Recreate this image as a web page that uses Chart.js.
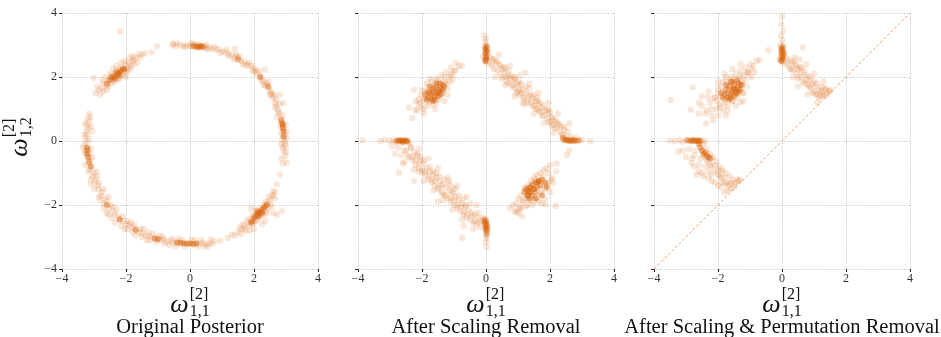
<!DOCTYPE html>
<html><head><meta charset="utf-8">
<script src="https://cdn.jsdelivr.net/npm/chart.js@4/dist/chart.umd.min.js"></script>
<style>
html,body{margin:0;padding:0;background:#fff;}
#wrap{position:relative;width:941px;height:337px;overflow:hidden;}
canvas{position:absolute;left:0;top:0;}
</style></head>
<body><div id="wrap">
<canvas id="c1" width="941" height="337"></canvas>
<canvas id="c2" width="941" height="337"></canvas>
<canvas id="c3" width="941" height="337"></canvas>
</div>
<script>
// ---------- data ----------
const tickValues = [-4, -2, 0, 2, 4];
const tickLabels = ['\u22124', '\u22122', '0', '2', '4'];
const panelTitles = ['Original Posterior', 'After Scaling Removal', 'After Scaling & Permutation Removal'];
const axisSymbol = '\u03c9';
const axisSup = '[2]';
const xSub = '1,1';
const ySub = '1,2';
const diagX = [-4, 4];
const diagY = [-4, 4];

// Panel 1: original posterior (light points)
const origLight = [
 [-0.55,3.0],[-0.45,2.97],[-0.3,3.0],[-0.2,2.96],[-0.1,2.99],[0.0,2.97],[0.1,2.95],[0.15,3.0],[0.2,2.93],[0.3,2.97],
 [0.35,2.92],[0.45,2.96],[0.5,2.91],[0.6,2.93],[0.7,2.88],[0.8,2.85],[0.9,2.87],[1.0,2.8],[1.1,2.78],[1.2,2.72],
 [1.3,2.7],[1.4,2.62],[1.5,2.6],[1.6,2.5],[1.7,2.47],[1.8,2.38],[1.9,2.35],[1.95,2.22],[2.05,2.2],[2.1,2.1],
 [2.2,2.05],[2.25,1.9],[2.3,1.85],[2.35,1.72],[2.45,1.65],[2.5,1.55],[2.55,1.42],[2.6,1.35],[2.65,1.2],[2.7,1.1],
 [2.75,0.98],[2.8,0.85],[2.85,0.7],[2.85,0.58],[2.9,0.45],[2.92,0.35],[2.95,0.2],[2.93,0.1],[2.97,0.0],[2.95,-0.1],
 [2.9,-0.2],[2.93,-0.3],[0.1,3.03],[0.5,3.0],[1.2,2.65],[1.45,2.7],[1.75,2.35],[2.0,2.3],[2.2,1.95],[2.4,1.8],
 [2.55,1.5],[2.7,1.3],[2.75,0.9],[2.92,0.55],[3.02,0.3],[2.88,0.05],[3.0,-0.15],[2.85,-0.55],[2.9,-0.7],[2.8,-1.05],
 [2.92,1.19],[2.81,1.45],[2.34,2.23],[1.4,2.88],[-0.52,3.05],
 [-0.4,3.05],[-0.15,2.93],[0.05,3.05],[0.25,3.02],[0.55,2.86],[0.75,2.95],[0.95,2.75],[1.15,2.85],[1.35,2.55],[1.55,2.65],
 [1.65,2.4],[1.85,2.45],[2.0,2.15],[2.15,2.2],[2.3,1.75],[2.45,1.85],[2.5,1.45],[2.65,1.45],[2.65,1.05],[2.8,1.15],
 [2.72,0.75],[2.9,0.8],[2.82,0.45],[3.0,0.5],[2.85,0.25],[3.02,0.1],[2.85,-0.1],[3.0,-0.35],
 [-2.95,1.5],[-2.85,1.6],[-2.75,1.65],[-2.7,1.8],[-2.6,1.75],[-2.55,1.9],[-2.5,1.95],[-2.45,2.05],[-2.4,1.9],[-2.35,2.1],
 [-2.3,2.2],[-2.25,1.95],[-2.2,2.25],[-2.15,2.1],[-2.1,2.3],[-2.05,2.2],[-2.0,2.4],[-1.95,2.3],[-1.9,2.45],[-1.85,2.35],
 [-1.8,2.5],[-1.75,2.55],[-1.7,2.6],[-1.6,2.72],[-1.5,2.7],[-1.4,2.74],[-1.9,2.6],[-2.15,2.45],[-2.4,2.25],[-2.65,2.0],
 [-3.01,1.97],[-2.19,3.42],[-1.19,2.77],[-1.03,2.96],
 [-2.8,1.45],[-2.7,1.55],[-2.6,1.6],[-2.55,1.7],[-2.45,1.8],[-2.35,1.85],[-2.3,1.95],[-2.2,1.95],[-2.1,2.05],[-2.0,2.15],
 [-1.95,2.2],[-1.85,2.25],[-1.75,2.4],[-1.65,2.45],[-1.55,2.6],[-2.5,2.1],[-2.3,2.35],[-2.05,2.5],[-1.8,2.65],[-2.75,1.9],
 [-2.9,1.7],[-2.0,2.0],
 [-3.15,0.85],[-3.2,0.7],[-3.15,0.6],[-3.22,0.5],[-3.18,0.4],[-3.25,0.3],[-3.2,0.2],[-3.28,0.1],[-3.22,0.0],[-3.3,-0.1],
 [-3.2,-0.2],[-3.25,-0.3],[-3.15,-0.4],[-3.22,-0.5],[-3.12,-0.6],[-3.18,-0.7],[-3.08,-0.8],[-3.12,-0.9],[-3.0,-1.0],[-3.05,-1.1],
 [-2.95,-1.2],[-2.98,-1.3],[-2.88,-1.4],[-2.85,-1.5],[-2.75,-1.6],[-2.78,-1.7],[-2.65,-1.8],[-2.6,-1.9],[-2.5,-2.0],[-2.52,-2.1],
 [-2.4,-2.2],[-2.35,-2.3],[-2.25,-2.35],[-2.2,-2.45],[-2.1,-2.5],[-2.0,-2.6],[-1.9,-2.62],[-1.8,-2.7],[-1.7,-2.75],[-1.6,-2.85],
 [-1.5,-2.88],[-1.4,-2.95],[-1.3,-2.97],[-1.2,-3.0],[-1.1,-3.05],[-1.0,-3.05],[-0.9,-3.1],[-0.8,-3.08],[-0.7,-3.15],[-0.6,-3.12],
 [-0.5,-3.18],[-0.4,-3.15],[-0.3,-3.2],[-0.2,-3.18],[-0.1,-3.22],[0.0,-3.2],[0.1,-3.24],[0.2,-3.2],[0.3,-3.22],[0.4,-3.18],
 [0.5,-3.22],[0.6,-3.2],[0.7,-3.22],[-3.05,0.3],[-3.35,-0.2],[-3.05,-0.5],[-2.9,-1.1],[-3.1,-1.35],[-2.8,-1.85],[-2.45,-2.4],
 [-2.6,-2.25],[-2.05,-2.75],[-1.85,-2.55],[-1.55,-2.75],[-1.25,-3.1],[-0.95,-2.95],[-0.65,-3.25],[-0.35,-3.05],[0.15,-3.1],[0.45,-3.3],
 [0.65,-3.08],[-2.7,-2.1],[-1.7,-2.95],[0.94,-3.12],[1.19,-3.03],
 [-3.1,0.75],[-3.28,0.55],[-3.1,0.45],[-3.3,0.2],[-3.15,0.05],[-3.3,-0.35],[-3.1,-0.25],[-3.28,-0.75],[-3.18,-0.95],[-2.92,-0.95],
 [-3.1,-1.2],[-2.85,-1.3],[-3.0,-1.5],[-2.7,-1.5],[-2.85,-1.75],[-2.55,-1.75],[-2.7,-1.95],[-2.4,-2.05],[-2.55,-2.3],[-2.3,-2.15],
 [-2.35,-2.55],[-2.1,-2.35],[-2.15,-2.65],[-1.95,-2.5],[-1.95,-2.75],[-1.75,-2.6],[-1.8,-2.85],[-1.45,-2.75],[-1.5,-3.0],[-1.3,-2.85],
 [-1.35,-3.1],[-1.15,-2.9],[-1.05,-3.15],[-0.85,-3.0],[-0.8,-3.2],[-0.55,-3.05],[-0.45,-3.28],[-0.25,-3.1],[-0.15,-3.3],[0.05,-3.1],
 [0.25,-3.3],[0.35,-3.1],[0.55,-3.3],[0.75,-3.12],
 [1.5,-2.85],[1.6,-2.75],[1.7,-2.65],[1.75,-2.8],[1.8,-2.55],[1.87,-2.8],[1.9,-2.45],[1.95,-2.6],[2.0,-2.35],[2.05,-2.5],
 [2.1,-2.2],[2.15,-2.4],[2.2,-2.1],[2.25,-2.3],[2.3,-2.0],[2.35,-2.2],[2.4,-1.95],[2.45,-2.1],[2.5,-1.85],[2.55,-1.7],
 [2.6,-1.56],[2.65,-1.8],[2.72,-2.3],[2.87,-2.19],[2.71,-1.35],[2.97,-0.47],[3.02,-0.68],[1.9,-2.1],[2.35,-2.5],[1.65,-2.6],
 [2.0,-2.75],[1.4,-2.95],[1.3,-2.92],
 [1.55,-2.7],[1.7,-2.75],[1.8,-2.45],[1.85,-2.65],[1.95,-2.3],[2.0,-2.55],[2.05,-2.15],[2.1,-2.45],[2.2,-2.3],[2.3,-2.3],
 [2.35,-1.9],[2.4,-2.25],[2.5,-1.95],[2.55,-2.05],[2.45,-1.75],[2.6,-1.7],[2.65,-1.6],[1.6,-2.9],[2.25,-2.6],[2.6,-2.25]
];
// Panel 1: dense cores
const origDense = [
 [0.1,2.96],[0.2,2.95],[0.3,2.96],[0.4,2.94],[0.25,2.92],[0.35,2.97],[1.5,2.55],[2.2,2.0],[2.45,1.7],[2.85,0.65],
 [2.9,0.5],[2.9,0.4],[2.93,0.3],[2.92,0.15],[2.88,0.55],
 [-2.5,1.9],[-2.4,2.0],[-2.35,1.95],[-2.3,2.05],[-2.25,2.1],[-2.2,2.15],[-2.15,2.2],[-2.1,2.25],[-2.05,2.25],[-2.3,2.15],
 [-2.45,2.0],[-2.2,2.05],[-2.6,1.8],
 [-3.22,-0.2],[-3.2,-0.3],[-3.22,-0.4],[-3.18,-0.5],[-3.15,-0.65],[-3.1,-0.8],[-2.6,-2.0],[-2.2,-2.45],[-1.7,-2.78],[-1.1,-3.05],
 [-1.0,-3.07],[-0.4,-3.18],[-0.2,-3.2],[-0.1,-3.2],[0.0,-3.2],[0.1,-3.22],[-0.3,-3.18],[0.2,-3.2],
 [2.0,-2.4],[2.05,-2.35],[2.1,-2.3],[2.15,-2.25],[2.2,-2.2],[2.25,-2.15],[2.3,-2.1],[2.35,-2.05],[2.15,-2.35],[2.25,-2.25],
 [2.1,-2.2],[1.95,-2.5],[1.9,-2.55],[2.4,-2.0]
];

// Panel 2: after scaling removal
const scaledLight = [
 [-0.05,3.3],[0.0,3.2],[-0.03,3.1],[0.02,3.0],[-0.05,2.95],[0.05,2.9],[-0.02,2.8],[0.03,2.7],[-0.05,2.6],[0.04,2.5],
 [0.0,2.45],[0.08,2.75],[-0.08,2.65],
 [0.15,2.6],[0.2,2.35],[0.3,2.45],[0.35,2.2],[0.4,2.4],[0.45,2.1],[0.5,2.25],[0.55,2.0],[0.6,2.15],[0.65,1.85],[0.7,2.05],
 [0.75,1.95],[0.8,1.75],[0.85,1.9],[0.9,1.65],[0.95,1.8],[1.0,1.55],[1.05,1.75],[1.1,1.5],[1.15,1.6],[1.2,1.35],
 [1.25,1.5],[1.3,1.3],[1.35,1.45],[1.4,1.2],[1.45,1.35],[1.5,1.1],[1.55,1.25],[1.6,1.0],[1.65,1.15],[1.7,0.9],
 [1.75,1.05],[1.8,0.8],[1.85,0.95],[1.9,0.7],[1.95,0.85],[2.0,0.6],[2.05,0.75],[2.1,0.5],[2.15,0.65],[2.2,0.4],
 [2.25,0.55],[2.3,0.3],[2.35,0.45],[2.4,0.2],[2.45,0.35],[2.5,0.15],[0.25,2.55],[0.55,2.3],[0.9,1.95],[1.23,2.13],
 [1.6,1.35],[1.95,1.0],
 [0.1,2.4],[0.2,2.55],[0.25,2.25],[0.35,2.5],[0.45,2.35],[0.5,1.95],[0.6,2.3],[0.7,1.8],[0.7,2.2],[0.8,2.05],
 [0.85,1.7],[0.9,2.0],[0.95,1.5],[1.0,1.85],[1.05,1.45],[1.1,1.8],[1.15,1.35],[1.25,1.7],[1.3,1.2],[1.35,1.65],
 [1.4,1.4],[1.5,1.45],[1.55,1.0],[1.6,1.25],[1.7,1.2],[1.75,0.8],[1.8,1.1],[1.9,0.95],[1.95,0.6],[2.0,0.9],
 [2.1,0.7],[2.15,0.4],[2.2,0.6],[2.3,0.5],[2.35,0.2],[2.45,0.45],[2.55,0.3],[1.45,1.1],[1.05,1.6],[0.65,2.0],
 [2.05,0.5],[1.65,0.95],
 [0.3,2.0],[0.6,1.75],[0.9,1.4],[1.2,1.15],[1.5,0.85],[1.8,0.55],[2.1,0.25],[0.4,2.7],[0.75,2.35],[1.05,2.05],
 [1.35,1.8],[1.65,1.5],[1.95,1.2],[2.25,0.85],[2.6,0.55],[1.15,1.2],
 [2.4,0.05],[2.55,0.0],[2.7,0.05],[2.85,0.0],[3.0,0.03],[3.26,0.0],[2.53,-0.44],[2.6,-0.3],[2.65,0.15],[2.8,0.1],
 [-2.3,0.72],[-2.15,0.98],[-2.1,1.15],[-2.2,1.25],[-2.0,1.05],[-1.95,1.3],[-2.05,1.45],[-1.9,1.55],[-1.85,1.2],[-1.8,1.7],
 [-1.75,1.4],[-1.7,1.85],[-1.65,1.15],[-1.6,1.6],[-1.55,1.95],[-1.5,1.3],[-1.45,1.75],[-1.4,2.05],[-1.35,1.5],[-1.3,1.85],
 [-1.25,2.15],[-1.2,1.65],[-1.15,2.0],[-1.1,2.3],[-1.05,1.9],[-1.0,2.2],[-0.95,2.45],[-0.85,2.35],[-0.75,2.35],[-2.25,1.6],
 [-1.95,0.85],[-1.6,1.0],[-2.4,1.05],[-1.3,1.25],
 [-2.2,0.95],[-2.05,1.2],[-1.95,1.0],[-1.9,1.35],[-1.85,1.5],[-1.8,1.1],[-1.75,1.25],[-1.7,1.65],[-1.65,1.35],[-1.6,1.8],
 [-1.55,1.2],[-1.5,1.9],[-1.45,1.4],[-1.4,1.8],[-1.35,1.6],[-1.3,2.0],[-1.25,1.8],[-1.2,1.45],[-1.15,1.85],[-1.1,2.1],
 [-1.05,2.05],[-0.95,2.2],[-2.0,1.6],[-1.85,1.8],[-1.75,1.95],[-2.1,1.3],
 [0.75,-2.1],[0.85,-2.0],[0.95,-1.95],[1.0,-1.8],[1.05,-2.15],[1.1,-1.7],[1.12,-2.35],[1.15,-1.9],[1.2,-1.55],[1.25,-2.05],
 [1.3,-1.4],[1.35,-1.85],[1.4,-1.25],[1.45,-2.0],[1.5,-1.15],[1.55,-1.75],[1.6,-1.05],[1.65,-1.9],[1.7,-1.0],[1.75,-1.6],
 [1.8,-0.9],[1.85,-1.4],[1.9,-0.85],[1.95,-1.3],[2.0,-0.75],[2.05,-1.15],[2.2,-0.7],[1.86,-1.98],[2.17,-2.03],[1.0,-2.25],
 [0.9,-2.2],
 [2.2,-0.95],[2.05,-1.2],[1.95,-1.0],[1.9,-1.35],[1.85,-1.5],[1.8,-1.1],[1.75,-1.25],[1.7,-1.65],[1.65,-1.35],[1.6,-1.8],
 [1.55,-1.2],[1.5,-1.9],[1.45,-1.4],[1.4,-1.8],[1.35,-1.6],[1.3,-2.0],[1.25,-1.8],[1.2,-1.45],[1.15,-1.85],[1.1,-2.1],
 [1.05,-2.05],[0.95,-2.2],[2.0,-1.6],[1.85,-1.8],[1.75,-1.95],[2.1,-1.3],
 [-3.86,0.02],[-3.3,0.0],[-3.15,0.03],[-3.0,0.0],[-2.9,0.03],[-2.8,-0.05],[-2.7,0.0],[-2.6,0.02],[-2.5,0.0],[-2.4,-0.05],
 [-2.5,-0.3],[-2.45,-0.05],[-2.4,-0.5],[-2.35,-0.2],[-2.3,-0.6],[-2.25,-0.35],[-2.2,-0.75],[-2.15,-0.45],[-2.1,-0.85],[-2.05,-0.6],
 [-2.0,-1.0],[-1.95,-0.7],[-1.9,-1.05],[-1.85,-0.85],[-1.8,-1.2],[-1.75,-0.95],[-1.7,-1.3],[-1.65,-1.05],[-1.6,-1.4],[-1.55,-1.15],
 [-1.5,-1.5],[-1.45,-1.25],[-1.4,-1.6],[-1.35,-1.35],[-1.3,-1.7],[-1.25,-1.45],[-1.2,-1.8],[-1.15,-1.55],[-1.1,-1.9],[-1.05,-1.65],
 [-1.0,-2.0],[-0.95,-1.75],[-0.9,-2.1],[-0.85,-1.85],[-0.8,-2.2],[-0.75,-1.95],[-0.7,-2.3],[-0.65,-2.05],[-0.6,-2.4],[-0.55,-2.15],
 [-0.5,-2.45],[-0.45,-2.25],[-0.4,-2.55],[-0.35,-2.3],[-0.3,-2.6],[-0.25,-2.4],[-0.2,-2.7],[-0.15,-2.5],[-0.7,-2.65],[-2.75,-0.2],
 [-2.85,-0.4],[-2.55,-0.65],[-1.5,-1.9],[-2.1,-0.95],[-2.72,-0.99],[-2.25,-1.25],[-0.74,-3.02],
 [-0.1,-2.4],[-0.2,-2.55],[-0.25,-2.25],[-0.35,-2.5],[-0.45,-2.35],[-0.5,-1.95],[-0.6,-2.3],[-0.7,-1.8],[-0.7,-2.2],[-0.8,-2.05],
 [-0.85,-1.7],[-0.9,-2.0],[-0.95,-1.5],[-1.0,-1.85],[-1.05,-1.45],[-1.1,-1.8],[-1.15,-1.35],[-1.25,-1.7],[-1.3,-1.2],[-1.35,-1.65],
 [-1.4,-1.4],[-1.5,-1.45],[-1.55,-1.0],[-1.6,-1.25],[-1.7,-1.2],[-1.75,-0.8],[-1.8,-1.1],[-1.9,-0.95],[-1.95,-0.6],[-2.0,-0.9],
 [-2.1,-0.7],[-2.15,-0.4],[-2.2,-0.6],[-2.3,-0.5],[-2.35,-0.2],[-2.45,-0.45],[-2.55,-0.3],[-1.45,-1.1],[-1.05,-1.6],[-0.65,-2.0],
 [-2.05,-0.5],[-1.65,-0.95],[-2.65,-0.45],[-2.95,-0.15],
 [-0.3,-2.0],[-0.6,-1.75],[-0.9,-1.4],[-1.2,-1.15],[-1.5,-0.85],[-1.8,-0.55],[-2.1,-0.25],[-0.4,-2.75],[-0.75,-2.45],[-1.05,-2.15],
 [-1.35,-1.85],[-1.65,-1.55],[-1.95,-1.25],[-2.25,-0.9],[-2.6,-0.7],[-1.15,-1.25],
 [0.0,-2.45],[-0.05,-2.55],[0.03,-2.65],[-0.02,-2.75],[0.05,-2.85],[0.0,-2.95],[0.03,-3.05],[0.0,-3.15],[0.03,-3.3],[-0.05,-2.6],
 [0.08,-2.7]
];
const scaledDense = [
 [0.0,2.55],[0.0,2.65],[-0.02,2.75],[0.0,2.85],[0.02,2.95],[-0.03,2.5],[0.02,2.6],[-0.02,2.9],[0.03,2.8],
 [2.45,0.02],[2.55,0.03],[2.6,0.0],[2.65,0.02],[2.7,0.0],[2.75,0.02],[2.8,0.01],[2.5,0.05],[2.9,0.02],[2.4,0.1],
 [-1.8,1.35],[-1.75,1.5],[-1.7,1.45],[-1.65,1.55],[-1.6,1.4],[-1.55,1.5],[-1.5,1.6],[-1.45,1.55],[-1.4,1.65],[-1.55,1.7],
 [-1.7,1.3],[-1.35,1.75],[-1.5,1.4],[-1.65,1.65],[-1.45,1.8],[-1.8,1.55],
 [-1.9,1.45],[-1.85,1.3],[-1.6,1.3],[-1.4,1.45],[-1.3,1.7],[-1.55,1.8],[-1.65,1.25],[-1.35,1.6],[-1.75,1.7],[-1.5,1.5],
 [1.2,-1.6],[1.25,-1.5],[1.3,-1.7],[1.35,-1.45],[1.4,-1.6],[1.45,-1.35],[1.5,-1.5],[1.55,-1.3],[1.6,-1.45],[1.65,-1.25],
 [1.7,-1.4],[1.45,-1.7],[1.35,-1.8],[1.55,-1.6],[1.75,-1.2],[1.3,-1.55],
 [1.9,-1.45],[1.85,-1.3],[1.6,-1.3],[1.4,-1.45],[1.3,-1.7],[1.55,-1.8],[1.65,-1.25],[1.35,-1.6],[1.75,-1.7],[1.5,-1.5],
 [-2.75,0.02],[-2.7,0.0],[-2.65,0.02],[-2.6,0.0],[-2.55,0.02],[-2.5,0.01],[-2.45,0.0],[-2.8,0.0],[-2.6,-0.05],
 [0.0,-2.5],[0.02,-2.6],[-0.02,-2.7],[0.0,-2.8],[0.02,-2.9],[-0.03,-2.55],[0.03,-2.75],[0.0,-2.65],[-0.05,-2.45]
];

// Panel 3: after scaling & permutation removal
const permLight = [
 [0.0,3.88],[-0.02,3.65],[0.03,3.45],[-0.03,3.3],[0.02,3.15],[-0.05,3.0],[0.05,2.9],[-0.02,2.8],[0.03,2.7],[-0.05,2.6],
 [0.04,2.5],[0.0,2.45],[0.08,2.75],[-0.08,2.55],
 [0.15,2.55],[0.2,2.35],[0.3,2.45],[0.35,2.2],[0.4,2.4],[0.45,2.1],[0.5,2.25],[0.55,2.0],[0.6,2.15],[0.65,1.85],
 [0.7,2.05],[0.75,1.9],[0.8,1.75],[0.85,1.9],[0.9,1.65],[0.95,1.8],[1.0,1.55],[1.05,1.7],[1.1,1.45],[1.15,1.6],
 [1.2,1.4],[1.25,1.55],[1.3,1.45],[1.35,1.6],[1.45,1.55],[1.5,1.6],[0.65,2.92],[-0.43,2.84],[0.3,2.25],[0.55,2.3],
 [0.1,2.4],[0.2,2.55],[0.25,2.25],[0.35,2.5],[0.45,2.35],[0.5,1.95],[0.6,2.3],[0.7,1.8],[0.7,2.2],[0.8,2.05],
 [0.85,1.7],[0.9,2.0],[0.95,1.5],[1.0,1.85],[1.05,1.45],[1.1,1.8],[1.15,1.35],[1.25,1.7],[1.3,1.4],[1.35,1.65],
 [1.4,1.45],[1.5,1.55],[1.2,1.55],[0.55,2.55],[0.4,2.6],
 [0.5,1.7],[0.8,1.45],[1.1,1.2],[0.35,2.0],[0.75,2.4],[1.0,2.1],[1.3,1.85],
 [-3.48,1.28],[-2.79,1.68],[-2.85,0.98],[-2.37,0.55],
 [-2.35,0.95],[-2.25,1.2],[-2.2,0.8],[-2.1,1.35],[-2.05,1.0],[-2.0,1.5],[-1.95,1.15],[-1.9,1.7],[-1.85,0.95],[-1.8,1.3],
 [-1.75,1.85],[-1.7,1.1],[-1.65,1.6],[-1.6,2.0],[-1.55,1.25],[-1.5,1.8],[-1.45,2.1],[-1.4,1.35],[-1.35,1.95],[-1.3,2.2],
 [-1.25,1.5],[-1.2,2.05],[-1.15,2.3],[-1.1,1.7],[-1.05,2.15],[-1.0,2.4],[-0.9,2.35],[-0.8,2.5],[-0.7,2.53],[-2.5,1.1],
 [-2.6,0.85],[-1.75,0.8],[-1.3,1.2],[-0.95,2.0],
 [-2.2,1.0],[-2.05,1.25],[-1.95,1.05],[-1.9,1.4],[-1.85,1.55],[-1.8,1.15],[-1.75,1.3],[-1.7,1.7],[-1.65,1.4],[-1.6,1.85],
 [-1.55,1.25],[-1.5,1.95],[-1.45,1.45],[-1.4,1.85],[-1.35,1.65],[-1.3,2.05],[-1.25,1.85],[-1.2,1.5],[-1.15,1.9],[-1.1,2.15],
 [-1.05,2.1],[-0.95,2.25],[-2.0,1.65],[-1.85,1.85],[-1.75,2.0],[-2.1,1.35],[-2.3,1.35],[-2.4,0.85],[-2.15,0.65],[-0.85,2.15],
 [-2.3,1.55],[-2.0,1.85],[-1.8,2.1],[-1.55,2.25],[-1.3,2.4],[-1.2,1.25],[-1.45,1.1],[-1.7,0.95],[-2.0,0.8],[-2.5,1.4],
 [-2.6,1.2],
 [-3.5,0.02],[-3.35,0.0],[-3.2,0.03],[-3.1,-0.02],[-3.0,0.03],[-2.9,0.0],[-2.8,0.04],[-2.7,0.0],[-2.6,-0.03],[-2.5,0.02],
 [-2.4,0.0],
 [-2.5,-0.3],[-2.45,-0.1],[-2.4,-0.5],[-2.35,-0.25],[-2.3,-0.65],[-2.25,-0.4],[-2.2,-0.8],[-2.15,-0.5],[-2.1,-0.95],[-2.05,-0.65],
 [-2.0,-1.05],[-1.95,-0.8],[-1.9,-1.15],[-1.85,-0.9],[-1.8,-1.3],[-1.75,-1.0],[-1.7,-1.4],[-1.65,-1.1],[-1.6,-1.5],[-1.55,-1.2],
 [-1.5,-1.45],[-1.45,-1.3],[-1.4,-1.2],[-1.35,-1.25],[-1.31,-1.22],[-2.7,-0.3],[-2.9,-0.25],[-2.8,-0.55],[-2.6,-0.75],[-3.1,-0.3],
 [-2.67,-1.06],[-2.83,-0.68],[-3.24,-0.33],[-2.5,-1.0],[-2.3,-1.15],[-2.1,-1.3],[-1.9,-1.45],[-1.7,-1.55],
 [-2.45,-0.45],[-2.35,-0.6],[-2.25,-0.75],[-2.2,-0.55],[-2.1,-0.75],[-2.0,-0.9],[-1.95,-1.1],[-1.9,-0.95],[-1.8,-1.15],[-1.75,-1.3],
 [-1.65,-1.35],[-1.6,-1.3],[-1.5,-1.35],[-2.3,-0.95],[-2.55,-0.55],[-2.75,-0.45],[-2.4,-0.8],[-2.2,-1.05],[-1.9,-1.3],[-2.6,-0.95],
 [-3.0,-0.5],[-2.75,-0.8],[-2.45,-1.1],[-2.2,-1.25],[-2.0,-1.4],[-1.8,-1.6]
];
const permDense = [
 [0.0,2.55],[0.0,2.65],[-0.02,2.75],[0.0,2.85],[0.02,2.95],[-0.03,2.5],[0.02,2.6],[-0.02,2.9],[0.03,2.8],[0.05,2.7],
 [-1.8,1.45],[-1.75,1.6],[-1.7,1.5],[-1.65,1.7],[-1.6,1.45],[-1.55,1.6],[-1.5,1.75],[-1.45,1.5],[-1.4,1.65],[-1.35,1.8],
 [-1.3,1.6],[-1.5,1.4],[-1.6,1.85],[-1.25,1.75],[-1.7,1.35],[-1.4,1.9],[-1.55,1.55],[-1.35,1.55],
 [-1.9,1.5],[-1.85,1.35],[-1.6,1.35],[-1.4,1.5],[-1.3,1.75],[-1.55,1.85],[-1.65,1.3],[-1.45,1.6],[-1.75,1.75],[-1.5,1.65],
 [-2.95,0.02],[-2.85,0.0],[-2.8,0.02],[-2.75,0.0],[-2.7,0.02],[-2.65,0.0],[-2.6,0.02],[-2.55,0.0],[-2.6,-0.1],[-2.55,-0.2],
 [-2.5,-0.3],[-2.45,-0.4],[-2.4,-0.35],[-2.35,-0.45],[-2.3,-0.5],[-2.25,-0.55]
];

// ---------- drawing ----------
const ORANGE_LIGHT = 'rgba(217,95,2,0.15)';
const ORANGE_DENSE = 'rgba(217,95,2,0.42)';
const SERIF = '"Liberation Serif", "DejaVu Serif", serif';

function toPts(arr) { return arr.map(p => ({x: p[0], y: p[1]})); }

function drawOmega(ctx, cx, base, sub) {
  ctx.font = 'italic 26px ' + SERIF;
  const w1 = ctx.measureText(axisSymbol).width;
  ctx.font = '16px ' + SERIF;
  const wsup = ctx.measureText(axisSup).width;
  const wsub = ctx.measureText(sub).width;
  const total = w1 + 1 + Math.max(wsup, wsub);
  const x0 = cx - total / 2;
  ctx.textAlign = 'left';
  ctx.textBaseline = 'alphabetic';
  ctx.font = 'italic 26px ' + SERIF;
  ctx.fillText(axisSymbol, x0, base);
  ctx.font = '16px ' + SERIF;
  ctx.fillText(axisSup, x0 + w1 + 1, base - 13);
  ctx.fillText(sub, x0 + w1 + 1, base + 4);
}

const mathLabels = {
  id: 'mathLabels',
  afterDraw(chart, args, opts) {
    const ctx = chart.ctx, a = chart.chartArea;
    const cx = (a.left + a.right) / 2;
    ctx.save();
    ctx.fillStyle = '#111';
    drawOmega(ctx, cx, 312, xSub);
    if (opts.yLabel) {
      ctx.save();
      ctx.translate(27, 137);
      ctx.rotate(-Math.PI / 2);
      drawOmega(ctx, 0, 0, ySub);
      ctx.restore();
    }
    ctx.font = '20.5px ' + SERIF;
    ctx.textAlign = 'center';
    ctx.textBaseline = 'alphabetic';
    ctx.fillText(opts.title, cx, 333);
    ctx.restore();
  }
};

function axis(showLabels, isY, size) {
  return {
    type: 'linear', min: -4, max: 4,
    afterBuildTicks: s => { s.ticks = tickValues.map(v => ({value: v})); },
    afterFit: s => { if (isY) s.width = size; else s.height = size; },
    ticks: {
      display: true,
      padding: isY ? 2 : 0,
      color: '#333',
      font: {family: SERIF, size: 12},
      maxRotation: 0,
      callback: (v) => showLabels ? tickLabels[tickValues.indexOf(v)] : ''
    },
    grid: {
      display: true, drawOnChartArea: true, drawTicks: true,
      color: 'rgba(150,150,150,0.75)', lineWidth: 0.8,
      tickLength: 3, tickColor: '#222', tickWidth: 1, tickBorderDash: []
    },
    border: {display: false, dash: [1, 1.5]}
  };
}

function makeChart(id, light, dense, title, pad, yw, showY, diag) {
  const datasets = [
    {data: toPts(light), backgroundColor: ORANGE_LIGHT, borderWidth: 0, pointRadius: 3.2},
    {data: toPts(dense), backgroundColor: ORANGE_DENSE, borderWidth: 0, pointRadius: 3}
  ];
  if (diag) {
    datasets.unshift({
      type: 'line', data: diagX.map((x, i) => ({x: x, y: diagY[i]})),
      borderColor: 'rgba(230,130,60,0.7)', borderWidth: 1, borderDash: [3, 2],
      pointRadius: 0, fill: false
    });
  }
  return new Chart(document.getElementById(id), {
    type: 'scatter',
    data: {datasets},
    options: {
      responsive: false, animation: false, events: [],
      layout: {padding: pad},
      scales: {
        x: axis(true, false, 68),
        y: axis(showY, true, yw)
      },
      plugins: {
        legend: {display: false}, tooltip: {enabled: false},
        mathLabels: {title: title, yLabel: showY}
      }
    },
    plugins: [mathLabels]
  });
}

makeChart('c1', origLight, origDense, panelTitles[0], {left: 0, right: 623, top: 13, bottom: 0}, 62, true, false);
makeChart('c2', scaledLight, scaledDense, panelTitles[1], {left: 330, right: 327, top: 13, bottom: 0}, 28, false, false);
makeChart('c3', permLight, permDense, panelTitles[2], {left: 626, right: 31, top: 13, bottom: 0}, 28, false, true);
</script>
</body></html>
